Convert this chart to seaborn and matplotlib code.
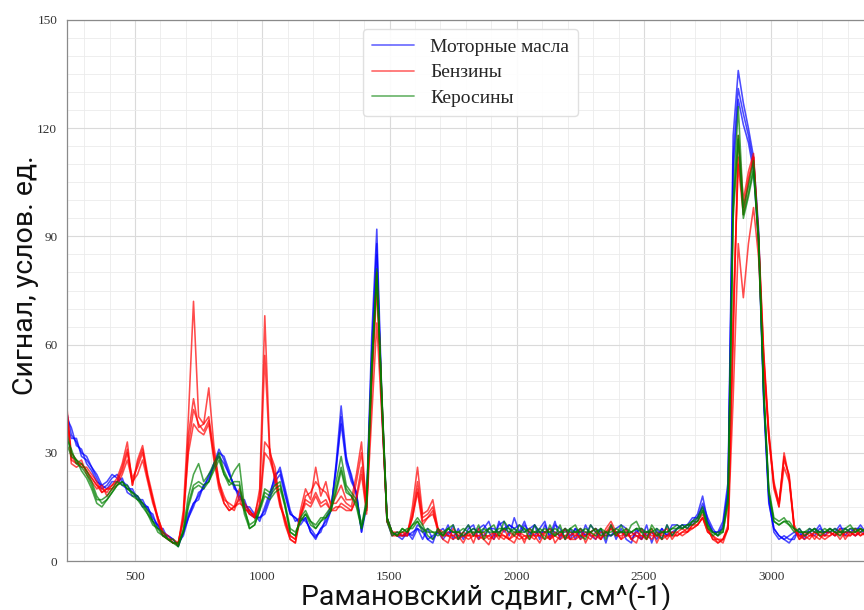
import matplotlib
matplotlib.use("Agg")
import matplotlib.pyplot as plt
from matplotlib.lines import Line2D
from matplotlib.ticker import MultipleLocator
import pandas as pd
import seaborn as sns

# Raman shift grid, cm^-1 (one sample every 20 cm^-1)
wavenumber = list(range(230, 3371, 20))

# --- Motor oils -------------------------------------------------------------
oil_1 = [
    42, 35, 33, 30, 29, 26, 23, 20, 21, 23,
    24, 22, 21, 19, 18, 16, 15, 12, 10, 8,
    7, 6, 4.5, 8, 13, 16, 18, 21, 23, 27,
    31, 28, 24, 21, 18, 16, 14, 12.5, 12, 14,
    18, 24, 25, 19, 13, 12, 11, 12, 8, 6.5,
    9, 11, 14, 27, 43, 29, 23, 19, 8, 17,
    62, 92, 45, 12, 8, 7, 6, 8, 7, 10,
    9, 6, 5, 9, 7, 10, 6, 9, 6, 9,
    10, 6, 9, 11, 7, 10, 11, 7, 12, 8,
    11, 7, 10, 6, 10, 7, 11, 6, 9, 6,
    9, 6, 10, 7, 6, 9, 5, 10, 6, 9,
    6, 5, 9, 6, 10, 5, 9, 6, 10, 7,
    9, 10, 9, 11, 13, 18, 11, 8, 8, 11,
    22, 118, 136, 127, 120, 112, 92, 46, 18, 9,
    7, 6, 5, 7, 8, 6, 9, 8, 10, 7,
    9, 8, 10, 7, 9, 8, 10, 8,
]
oil_2 = [
    40, 37, 32, 31, 27, 25, 22, 21, 22, 24,
    23, 21, 20, 20, 17, 17, 14, 13, 9, 9,
    6, 5, 5, 7, 12, 15, 19, 20, 24, 26,
    30, 29, 25, 20, 19, 15, 15, 13, 11, 15,
    19, 23, 26, 20, 14, 11, 12, 11, 9, 7,
    8, 12, 15, 25, 40, 28, 24, 18, 9, 16,
    58, 88, 43, 11, 7, 8, 7, 7, 8, 9,
    6, 9, 6, 8, 9, 7, 10, 6, 8, 10,
    7, 9, 10, 8, 6, 11, 8, 10, 9, 7,
    10, 8, 7, 9, 11, 6, 10, 9, 6, 9,
    6, 9, 7, 10, 8, 6, 8, 7, 9, 10,
    9, 6, 8, 9, 7, 8, 6, 9, 7, 10,
    10, 9, 10, 10, 12, 16, 12, 9, 7, 10,
    20, 112, 131, 124, 118, 110, 90, 45, 17, 8,
    6, 7, 6, 6, 9, 7, 8, 9, 8, 8,
    8, 9, 8, 8, 8, 9, 9, 7,
]
oil_3 = [
    38, 34, 34, 29, 28, 26, 24, 21, 20, 22,
    22, 23, 19, 18, 18, 15, 15, 11, 10, 7,
    7, 6, 4, 8, 12, 16, 17, 21, 22, 27,
    29, 27, 24, 21, 17, 17, 13, 12, 12, 13,
    17, 22, 24, 18, 13, 12, 10, 12, 8, 6,
    9, 10, 14, 26, 38, 27, 22, 19, 8, 15,
    55, 85, 42, 12, 8, 7, 7, 8, 6, 9,
    8, 6, 7, 8, 6, 8, 8, 7, 7, 8,
    9, 8, 7, 9, 9, 8, 9, 10, 9, 10,
    8, 9, 10, 8, 8, 9, 8, 7, 9, 7,
    9, 8, 7, 8, 9, 8, 7, 7, 8, 8,
    7, 8, 7, 6, 8, 8, 7, 9, 7, 8,
    9, 10, 10, 12, 12, 15, 11, 8, 8, 9,
    19, 108, 128, 121, 116, 108, 88, 44, 16, 9,
    7, 6, 7, 8, 7, 8, 8, 7, 9, 8,
    8, 7, 9, 9, 8, 7, 8, 9,
]

# --- Gasolines --------------------------------------------------------------
gas_1 = [
    45, 28, 27, 27, 25, 23, 21, 20, 19, 21,
    23, 27, 33, 21, 28, 32, 24, 18, 12, 8,
    6, 5, 4.5, 14, 40, 72, 40, 38, 48, 32,
    22, 16, 14, 15, 20, 16, 14, 12, 20, 68,
    30, 26, 16, 10, 6, 5, 14, 20, 17, 26,
    18, 22, 15, 18, 21, 17, 17, 24, 33, 14,
    40, 66, 40, 12, 8, 7, 8, 7, 15, 26,
    13, 14, 17, 9, 6, 5, 9, 7, 5, 8,
    5, 9, 6, 4.5, 8, 6, 9, 6, 5, 8,
    5, 9, 7, 5, 8, 9, 5, 7, 9, 6,
    7, 9, 5, 8, 9, 6, 9, 11, 8, 6,
    9, 6, 5, 9, 6, 9, 5, 8, 9, 6,
    8, 9, 8, 10, 11, 13, 9, 6, 5, 6,
    10, 60, 118, 100, 108, 113, 90, 58, 36, 22,
    16, 28, 24, 9, 6, 7, 8, 6, 8, 7,
    8, 7, 9, 6, 8, 7, 9, 8,
]
gas_2 = [
    43, 30, 28, 26, 26, 24, 22, 19, 20, 20,
    22, 25, 30, 23, 26, 30, 23, 17, 11, 7,
    6, 6, 5, 12, 35, 45, 37, 38, 40, 30,
    22, 18, 15, 14, 18, 15, 13, 13, 18, 57,
    29, 24, 17, 11, 7, 6, 12, 18, 19, 22,
    20, 19, 16, 16, 18, 16, 15, 22, 30, 15,
    50, 78, 44, 11, 8, 8, 7, 8, 13, 22,
    12, 13, 15, 9, 8, 7, 7, 8, 7, 6,
    7, 7, 6, 7, 6, 8, 7, 6, 7, 8,
    7, 6, 8, 7, 6, 7, 7, 8, 6, 7,
    8, 6, 7, 8, 6, 8, 8, 9, 7, 8,
    7, 8, 7, 6, 8, 7, 7, 8, 6, 8,
    7, 8, 9, 9, 10, 12, 8, 7, 6, 5,
    9, 70, 110, 96, 105, 112, 88, 56, 34, 21,
    15, 30, 23, 10, 7, 6, 7, 8, 7, 6,
    7, 8, 7, 8, 7, 9, 7, 8,
]
gas_3 = [
    41, 29, 27, 28, 24, 22, 20, 21, 18, 20,
    21, 24, 28, 22, 24, 28, 22, 16, 12, 8,
    7, 5, 5, 11, 32, 42, 38, 36, 39, 29,
    21, 17, 16, 15, 17, 14, 14, 12, 16, 33,
    31, 22, 15, 12, 7, 6, 13, 17, 16, 19,
    16, 17, 14, 14, 16, 15, 14, 18, 26, 14,
    48, 76, 42, 12, 7, 7, 8, 8, 12, 20,
    11, 12, 14, 8, 7, 7, 6, 7, 8, 7,
    8, 6, 7, 7, 8, 7, 6, 8, 7, 6,
    7, 7, 6, 8, 7, 6, 8, 7, 7, 6,
    6, 7, 8, 7, 7, 6, 8, 10, 7, 7,
    8, 6, 7, 7, 6, 8, 7, 6, 7, 8,
    8, 7, 8, 9, 10, 12, 9, 6, 6, 6,
    9, 45, 88, 73, 88, 98, 84, 55, 35, 20,
    15, 26, 22, 9, 7, 7, 6, 8, 7, 7,
    7, 8, 6, 8, 8, 7, 8, 7,
]
gas_4 = [
    44, 27, 26, 27, 25, 23, 21, 19, 20, 21,
    22, 26, 31, 21, 27, 31, 23, 17, 12, 7,
    6, 5, 5, 12, 30, 38, 36, 35, 38, 28,
    20, 16, 14, 15, 16, 15, 13, 12, 15, 30,
    28, 23, 16, 11, 6, 5, 12, 16, 15, 18,
    15, 16, 14, 15, 15, 14, 14, 17, 24, 13,
    52, 80, 45, 11, 8, 7, 7, 7, 12, 19,
    10, 12, 13, 9, 7, 8, 7, 6, 7, 7,
    7, 7, 8, 6, 7, 7, 7, 6, 8, 7,
    6, 7, 7, 7, 8, 6, 7, 6, 7, 8,
    7, 7, 7, 6, 8, 7, 7, 9, 8, 6,
    7, 7, 8, 7, 7, 6, 8, 7, 7, 7,
    7, 8, 8, 10, 10, 12, 8, 7, 5, 6,
    9, 65, 112, 98, 106, 112, 89, 57, 35, 21,
    16, 29, 23, 9, 6, 8, 7, 7, 6, 8,
    8, 7, 8, 7, 7, 8, 7, 8,
]

# --- Kerosenes --------------------------------------------------------------
ker_1 = [
    36, 30, 28, 27, 25, 22, 18, 16, 17, 19,
    21, 22, 20, 19, 18, 16, 14, 11, 9, 7,
    6, 5, 4, 9, 18, 24, 27, 22, 24, 27,
    30, 25, 22, 25, 27, 15, 9, 10, 14, 20,
    19, 21, 22, 15, 8, 7, 12, 14, 11, 9,
    11, 13, 15, 22, 29, 21, 19, 17, 10, 17,
    55, 81, 45, 12, 8, 7, 9, 8, 10, 12,
    10, 7, 6, 9, 7, 9, 10, 6, 8, 10,
    7, 10, 6, 9, 10, 7, 11, 9, 7, 10,
    9, 6, 10, 8, 6, 10, 7, 10, 6, 9,
    10, 7, 6, 10, 8, 9, 6, 10, 7, 10,
    7, 10, 11, 8, 6, 10, 8, 6, 10, 7,
    9, 10, 9, 11, 12, 15, 10, 8, 7, 9,
    18, 100, 126, 98, 104, 111, 90, 48, 20, 12,
    11, 12, 10, 8, 9, 7, 8, 9, 7, 8,
    9, 8, 7, 9, 10, 8, 9, 8,
]
ker_2 = [
    34, 31, 27, 26, 24, 21, 17, 17, 18, 20,
    22, 21, 21, 18, 17, 15, 13, 10, 9, 8,
    6, 5, 5, 8, 16, 21, 22, 21, 22, 26,
    29, 24, 21, 22, 22, 14, 10, 11, 15, 19,
    18, 20, 21, 16, 9, 8, 11, 13, 11, 10,
    12, 12, 14, 20, 26, 20, 18, 16, 9, 16,
    52, 79, 44, 11, 7, 8, 8, 9, 9, 11,
    8, 9, 8, 7, 8, 9, 8, 8, 9, 8,
    9, 8, 8, 9, 8, 9, 9, 8, 9, 8,
    9, 8, 8, 9, 8, 8, 9, 8, 8, 9,
    8, 9, 8, 8, 9, 7, 8, 8, 9, 8,
    9, 8, 9, 9, 8, 8, 9, 8, 8, 9,
    10, 9, 10, 10, 11, 14, 10, 7, 8, 8,
    16, 95, 117, 96, 102, 109, 88, 47, 19, 11,
    10, 11, 11, 9, 8, 8, 9, 8, 8, 9,
    8, 9, 8, 8, 9, 9, 8, 9,
]
ker_3 = [
    33, 29, 28, 25, 23, 20, 16, 15, 17, 19,
    21, 22, 20, 19, 17, 16, 13, 11, 8, 7,
    6, 6, 4, 8, 15, 20, 21, 20, 22, 25,
    28, 24, 22, 21, 21, 13, 9, 10, 14, 18,
    17, 19, 20, 15, 8, 7, 11, 13, 10, 9,
    11, 12, 14, 19, 25, 19, 18, 15, 9, 15,
    53, 80, 46, 12, 8, 7, 9, 8, 10, 11,
    9, 8, 8, 8, 7, 9, 8, 8, 7, 8,
    8, 8, 9, 8, 8, 8, 9, 9, 8, 8,
    8, 9, 8, 8, 9, 8, 7, 8, 9, 8,
    8, 8, 9, 8, 7, 9, 8, 7, 8, 8,
    8, 8, 9, 8, 8, 9, 7, 8, 8, 9,
    9, 9, 10, 11, 11, 14, 9, 8, 7, 8,
    17, 98, 118, 95, 101, 108, 89, 46, 19, 11,
    10, 11, 10, 9, 8, 8, 8, 9, 8, 8,
    9, 8, 8, 9, 8, 8, 9, 8,
]

groups = {
    "Моторные масла": [oil_1, oil_2, oil_3],
    "Бензины": [gas_1, gas_2, gas_3, gas_4],
    "Керосины": [ker_1, ker_2, ker_3],
}
palette = {"Моторные масла": "#0000ff", "Бензины": "#ff0000", "Керосины": "#008000"}

records = []
for name, spectra in groups.items():
    for k, spectrum in enumerate(spectra):
        for x, y in zip(wavenumber, spectrum):
            records.append((x, y, name, f"{name} {k + 1}"))
df = pd.DataFrame(records, columns=["shift", "signal", "sample", "spectrum"])

sns.set_style("white")
plt.rcParams["font.family"] = ["Liberation Serif", "DejaVu Serif"]

fig = plt.figure(figsize=(8.64, 6.10), dpi=100)
ax = fig.add_axes([67 / 864, 1 - 561 / 610, (864 - 67) / 864, (561 - 20) / 610])

sns.lineplot(
    data=df, x="shift", y="signal", hue="sample", units="spectrum",
    estimator=None, sort=False, palette=palette, hue_order=list(groups),
    alpha=0.7, linewidth=1.15, legend=False, ax=ax,
)

ax.set_xlim(233, 3364)
ax.set_ylim(0, 150)
ax.xaxis.set_major_locator(MultipleLocator(500))
ax.xaxis.set_minor_locator(MultipleLocator(100))
ax.yaxis.set_major_locator(MultipleLocator(30))
ax.yaxis.set_minor_locator(MultipleLocator(5))
ax.grid(which="major", color="#dadada", linewidth=0.8)
ax.grid(which="minor", color="#ebebeb", linewidth=0.6)
ax.set_axisbelow(True)
ax.tick_params(which="major", length=4, width=0.8, color="#777777",
               labelsize=9.5, labelcolor="#333333", pad=3)
ax.tick_params(which="minor", length=2, width=0.6, color="#999999")
for side in ("left", "bottom", "top"):
    ax.spines[side].set_color("#8a8a8a")
    ax.spines[side].set_linewidth(0.9)
ax.spines["right"].set_visible(False)
ax.set_xlabel("")
ax.set_ylabel("")

handles = [Line2D([], [], color=palette[n], alpha=0.55, linewidth=1.3) for n in groups]
ax.legend(handles, list(groups), loc="upper center", bbox_to_anchor=(0.506, 0.983),
          borderaxespad=0, fontsize=14, frameon=True, framealpha=0.9,
          edgecolor="#dddddd", fancybox=True, handlelength=2.2,
          handletextpad=0.8, labelspacing=0.42, borderpad=0.45)

label_font = ["Roboto", "DejaVu Sans"]
fig.text(486 / 864, 1 - 605 / 610, "Рамановский сдвиг, см^(-1)", ha="center",
         va="baseline", fontsize=20.5, family=label_font, color="#111111")
fig.text(26 / 864, 1 - 275 / 610, "Сигнал, услов. ед.", ha="center",
         va="center", rotation=90, fontsize=20.5, family=label_font, color="#111111")

fig.savefig("out.png", dpi=100)
